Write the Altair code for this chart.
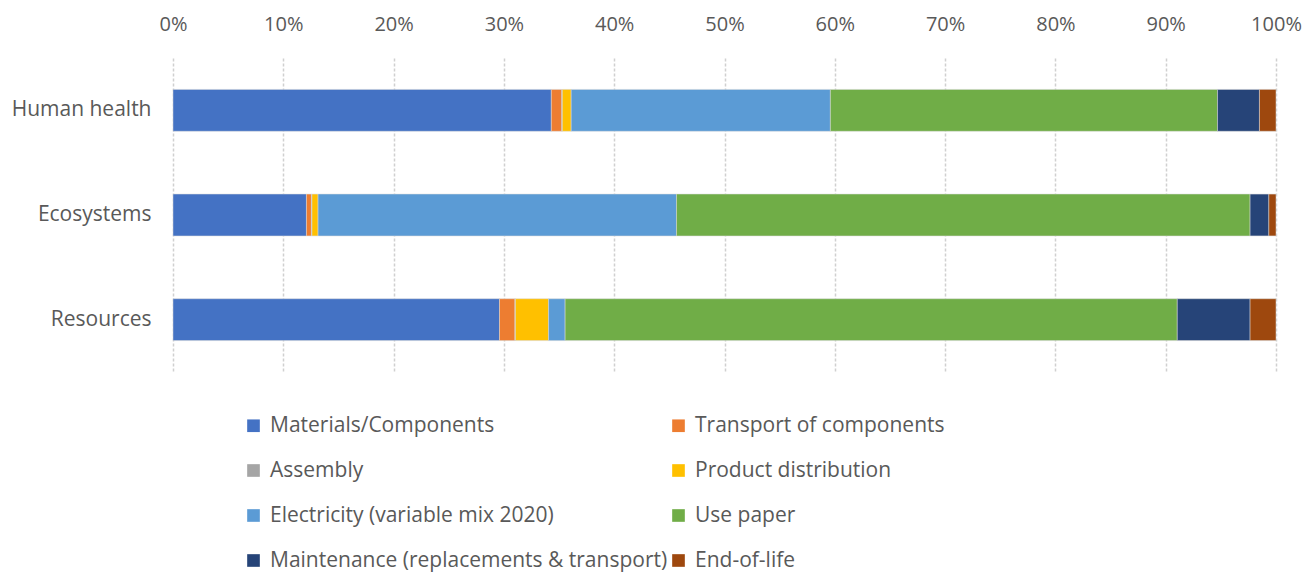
import altair as alt
import pandas as pd

categories = ["Human health", "Ecosystems", "Resources"]
stages = [
    "Materials/Components",
    "Transport of components",
    "Assembly",
    "Product distribution",
    "Electricity (variable mix 2020)",
    "Use paper",
    "Maintenance (replacements & transport)",
    "End-of-life",
]
colors = ["#4472C4", "#ED7D31", "#A5A5A5", "#FFC000", "#5B9BD5", "#70AD47", "#264478", "#9E480E"]

human_health = [34.3, 0.95, 0.05, 0.8, 23.5, 35.1, 3.8, 1.5]
ecosystems = [12.1, 0.45, 0.05, 0.55, 32.5, 52.0, 1.7, 0.65]
resources = [29.6, 1.4, 0.05, 3.0, 1.5, 55.5, 6.6, 2.35]

series = {"Human health": human_health, "Ecosystems": ecosystems, "Resources": resources}
rows = []
for cat in categories:
    for i, (st, v) in enumerate(zip(stages, series[cat])):
        rows.append({"category": cat, "stage": st, "value": v / 100.0, "order": i})
df = pd.DataFrame(rows)

# legend is laid out column by column, so order the domain to read row by row
legend_idx = [0, 2, 4, 6, 1, 3, 5, 7]
legend_domain = [stages[i] for i in legend_idx]
legend_range = [colors[i] for i in legend_idx]

FONT = "Open Sans"
GREY = "#595959"

chart = (
    alt.Chart(df)
    .mark_bar(stroke="#D9D9D9", strokeWidth=0.5)
    .encode(
        x=alt.X(
            "sum(value):Q",
            stack="zero",
            scale=alt.Scale(domain=[0, 1], nice=False),
            axis=alt.Axis(
                orient="top",
                format=".0%",
                values=[i / 10 for i in range(11)],
                title=None,
                domain=False,
                ticks=False,
                labelPadding=24,
                labelFontSize=20,
                labelColor=GREY,
                labelFont=FONT,
                labelFlush=False,
                grid=True,
                gridColor="#D0D0D0",
                gridDash=[3, 2],
                gridWidth=1.5,
            ),
        ),
        y=alt.Y(
            "category:N",
            sort=categories,
            scale=alt.Scale(paddingInner=0.6, paddingOuter=0.3),
            axis=alt.Axis(
                title=None,
                domain=False,
                ticks=False,
                labelPadding=22,
                labelFontSize=21,
                labelColor=GREY,
                labelFont=FONT,
            ),
        ),
        color=alt.Color(
            "stage:N",
            scale=alt.Scale(domain=legend_domain, range=legend_range),
            legend=alt.Legend(
                title=None,
                orient="none",
                legendX=70,
                legendY=357,
                columns=2,
                columnPadding=0,
                rowPadding=23,
                symbolType="square",
                symbolSize=160,
                symbolStrokeWidth=0,
                labelFontSize=21,
                labelFont=FONT,
                labelColor=GREY,
                labelLimit=500,
                labelOffset=6,
            ),
        ),
        order=alt.Order("order:Q", sort="ascending"),
    )
    .properties(width=1103, height=314)
    .configure_view(stroke=None)
    .properties(
        autosize=alt.AutoSizeParams(type="none"),
        padding={"left": 173, "top": 58, "right": 30, "bottom": 200},
    )
)

chart.save("out.html", embed_options={"renderer": "svg", "actions": False})
